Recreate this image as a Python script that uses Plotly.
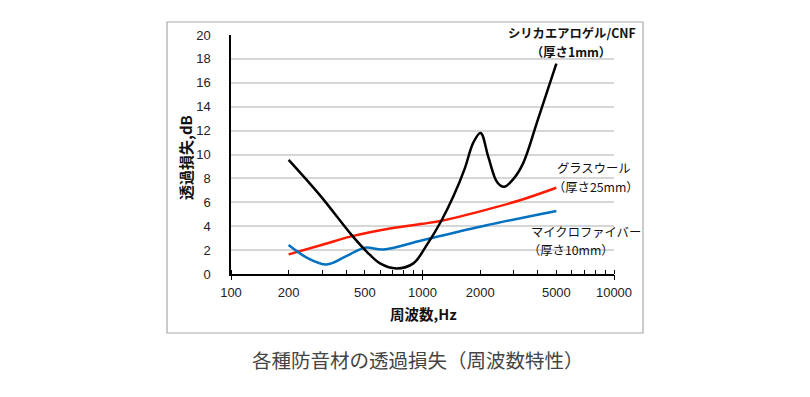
import plotly.graph_objects as go

# ---- data ----
silica_freq = [200, 291, 427, 512, 600, 733, 896, 1052, 1259, 1450, 1660, 1842, 2010, 2206, 2450, 2665, 3000, 3361, 4000, 5000]
silica_tl   = [9.55, 6.6, 3.25, 1.86, 0.89, 0.47, 0.89, 2.42, 4.5, 6.5, 8.8, 11.0, 11.8, 9.8, 7.7, 7.3, 8.0, 9.3, 12.9, 17.6]

glass_freq = [200, 300, 435, 700, 1000, 1290, 2163, 3229, 5000]
glass_tl   = [1.64, 2.45, 3.19, 3.85, 4.2, 4.5, 5.39, 6.17, 7.22]

micro_freq = [200, 250, 316, 400, 501, 624, 1000, 2163, 5000]
micro_tl   = [2.42, 1.35, 0.8, 1.5, 2.2, 2.05, 2.83, 4.08, 5.28]

x_tickvals = [100, 200, 500, 1000, 2000, 5000, 10000]
x_ticktext = ["100", "200", "500", "1000", "2000", "5000", "10000"]
x_minor = [100, 200, 300, 400, 500, 600, 700, 800, 900, 1000, 2000, 3000, 4000, 5000, 6000, 7000, 8000, 9000, 10000]
x_decades = [100, 1000, 10000]
y_tickvals = list(range(0, 21, 2))

# ---- layout geometry (pixels in the 810x397 window; page body has an 8px margin) ----
VW, VH = 810, 397
OFF = 8
W, H = VW - OFF, VH - OFF
L, R, T, B = 231, 614, 35, 274
PW, PH = R - L, B - T

def px(x):
    return (x - L) / PW

def py(y):
    return (B - y) / PH

FONT = "Liberation Sans, Arial, Noto Sans CJK JP, sans-serif"
CJK = "Noto Sans CJK JP, Liberation Sans, sans-serif"

fig = go.Figure()
fig.add_trace(go.Scatter(x=glass_freq, y=glass_tl, mode="lines",
                         line=dict(color="#ff1a00", width=2.5, shape="spline"), showlegend=False))
fig.add_trace(go.Scatter(x=micro_freq, y=micro_tl, mode="lines",
                         line=dict(color="#0070c0", width=2.5, shape="spline"), showlegend=False))
fig.add_trace(go.Scatter(x=silica_freq, y=silica_tl, mode="lines",
                         line=dict(color="#000000", width=2.5, shape="spline"), showlegend=False))
fig.add_trace(go.Scatter(x=[1000], y=[-5], mode="markers", xaxis="x2",
                         marker=dict(opacity=0), showlegend=False, hoverinfo="skip"))

fig.update_layout(
    width=W, height=H, autosize=False,
    margin=dict(l=L - OFF, r=VW - R, t=T - OFF, b=VH - B),
    paper_bgcolor="white", plot_bgcolor="white",
    font=dict(family=FONT, color="#222222", size=13),
    xaxis=dict(type="log", range=[2, 4], tickvals=x_tickvals, ticktext=x_ticktext,
               ticks="", showgrid=False, zeroline=False,
               showline=True, linecolor="black", linewidth=1.5,
               ticklabelstandoff=6,
               tickfont=dict(size=13, color="#222222"),
               minor=dict(tickvals=x_minor, ticks="inside", ticklen=4,
                          tickcolor="black", tickwidth=1, showgrid=False)),
    xaxis2=dict(type="log", range=[2, 4], overlaying="x", anchor="y", side="bottom",
                tickvals=x_decades, ticks="outside", ticklen=5, tickcolor="black",
                tickwidth=1, showticklabels=False, showgrid=False, zeroline=False,
                showline=False),
    yaxis=dict(range=[0, 20], tickvals=y_tickvals, ticks="", showgrid=True,
               gridcolor="#d6d6d6", gridwidth=1.5, zeroline=False,
               showline=True, linecolor="black", linewidth=1.5,
               ticklabelstandoff=16,
               tickfont=dict(size=13, color="#222222")),
)

# outer frame
fig.add_shape(type="rect", xref="paper", yref="paper",
              x0=px(167), x1=px(643), y0=py(333), y1=py(22),
              line=dict(color="#aaaaaa", width=1.2), layer="below")

anns = [
    dict(text="<b>シリカエアロゲル/CNF</b>", x=px(572), y=py(33), xanchor="center"),
    dict(text="<b>（厚さ1mm）</b>", x=px(571), y=py(51.5), xanchor="center"),
    dict(text="グラスウール", x=px(555), y=py(168), xanchor="left"),
    dict(text="（厚さ25mm）", x=px(551), y=py(187), xanchor="left"),
    dict(text="マイクロファイバー", x=px(529), y=py(232), xanchor="left"),
    dict(text="（厚さ10mm）", x=px(526), y=py(250.5), xanchor="left"),
]
for a in anns:
    fig.add_annotation(text=a["text"], x=a["x"], y=a["y"], xref="paper", yref="paper",
                       xanchor=a["xanchor"], yanchor="middle", showarrow=False,
                       font=dict(family=CJK, size=12.3, color="#111111"))

# axis titles
fig.add_annotation(text="<b>透過損失,dB</b>", x=px(185), y=py(158), xref="paper", yref="paper",
                   textangle=-90, showarrow=False, xanchor="center", yanchor="middle",
                   font=dict(family=CJK, size=15, color="#111111"))
fig.add_annotation(text="<b>周波数,Hz</b>", x=px(423), y=py(313), xref="paper", yref="paper",
                   showarrow=False, xanchor="center", yanchor="middle",
                   font=dict(family=CJK, size=14.5, color="#111111"))

# caption
fig.add_annotation(text="各種防音材の透過損失（周波数特性）", x=px(418), y=py(359),
                   xref="paper", yref="paper", showarrow=False,
                   xanchor="center", yanchor="middle",
                   font=dict(family=CJK, size=19.5, color="#444444"))

fig.write_html("out.html")
